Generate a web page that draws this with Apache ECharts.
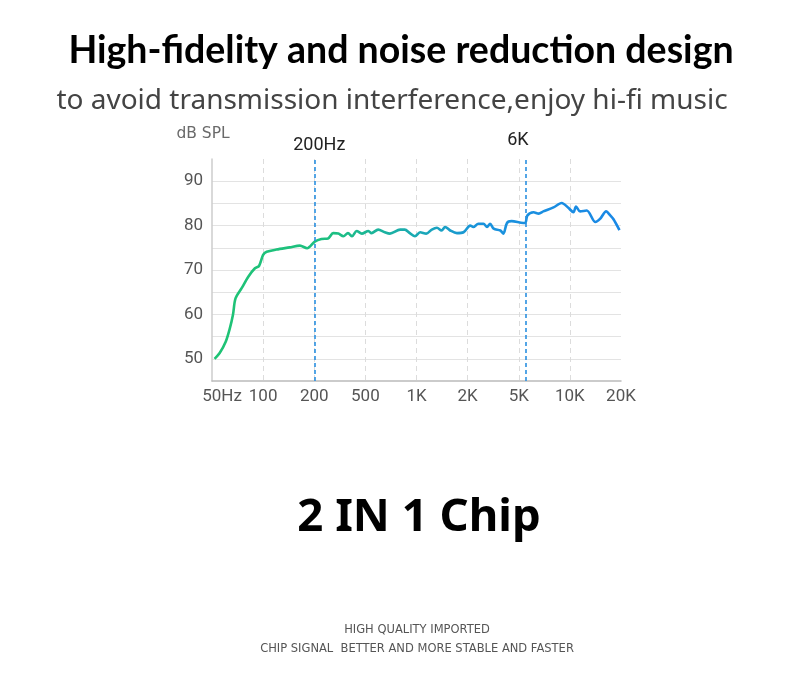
<!DOCTYPE html>
<html>
<head>
<meta charset="utf-8">
<script src="https://cdn.jsdelivr.net/npm/echarts@6/dist/echarts.min.js"></script>
<style>
  html, body { margin: 0; padding: 0; background: #fff; }
  #main { width: 800px; height: 679px; }
</style>
</head>
<body>
<div id="main"></div>
<script>
// x axis is evenly spaced per label, so positions are in "tick index" units
const tickLabels = ['50Hz', '100', '200', '500', '1K', '2K', '5K', '10K', '20K'];

const freqPos = [
  0.05, 0.15, 0.27, 0.35, 0.41, 0.46, 0.58, 0.71, 0.84, 0.92,
  1.00, 1.07, 1.26, 1.52, 1.72, 1.86, 2.01, 2.14, 2.27, 2.37,
  2.47, 2.57, 2.66, 2.74, 2.83, 2.93, 3.06, 3.12, 3.25, 3.38,
  3.48, 3.68, 3.77, 3.87, 3.97, 4.07, 4.19, 4.30, 4.40, 4.49,
  4.56, 4.66, 4.79, 4.92, 5.05, 5.11, 5.21, 5.31, 5.38, 5.44,
  5.51, 5.64, 5.70, 5.77, 5.86, 6.09, 6.13, 6.17, 6.29, 6.39,
  6.48, 6.68, 6.84, 6.97, 7.07, 7.12, 7.20, 7.33, 7.50, 7.59,
  7.71, 7.79, 7.85, 7.97
];
const splValues = [
  50.0, 51.3, 53.9, 56.9, 59.9, 63.6, 65.9, 68.5, 70.4, 70.9,
  73.4, 74.1, 74.6, 75.1, 75.5, 74.9, 76.4, 77.0, 77.1, 78.3,
  78.2, 77.6, 78.3, 77.6, 78.8, 78.2, 78.8, 78.3, 79.1, 78.5,
  78.2, 79.1, 79.1, 78.3, 77.6, 78.5, 78.2, 79.1, 79.5, 78.9,
  79.7, 78.9, 78.3, 78.5, 80.0, 79.7, 80.4, 80.4, 79.7, 80.4,
  79.3, 78.9, 78.2, 80.6, 81.0, 80.6, 80.6, 82.3, 83.0, 82.7,
  83.2, 84.1, 85.1, 84.0, 83.0, 84.3, 83.2, 83.4, 80.8, 81.5,
  83.2, 82.3, 81.5, 79.0
];

const markerPos = [2, 6.14];
const markerLabels = ['200Hz', '6K'];
const markerOffsets = [[5, 0], [-8, -5]];

const chart = echarts.init(document.getElementById('main'));

const lineData = freqPos.map((x, i) => [x, splValues[i]]);

const option = {
  animation: false,
  backgroundColor: '#fff',
  title: [
    {
      text: 'High-fidelity and noise reduction design',
      left: 396, top: 27, textAlign: 'center',
      textStyle: { fontFamily: 'Lato', fontWeight: 'bold', fontSize: 37.5, color: '#000' }
    },
    {
      text: 'to avoid transmission interference,enjoy hi-fi music',
      left: 387, top: 82, textAlign: 'center',
      textStyle: { fontFamily: 'Noto Sans', fontWeight: 'normal', fontSize: 28, color: '#444' }
    },
    {
      text: '2 IN 1 Chip',
      left: 414, top: 490, textAlign: 'center',
      textStyle: { fontFamily: 'Noto Sans', fontWeight: 'bold', fontSize: 45.5, color: '#000' }
    },
    {
      text: 'HIGH QUALITY IMPORTED',
      left: 412, top: 619, textAlign: 'center',
      textStyle: { fontFamily: 'DejaVu Sans', fontWeight: 'normal', fontSize: 11.5, color: '#555' }
    },
    {
      text: 'CHIP SIGNAL  BETTER AND MORE STABLE AND FASTER',
      left: 412, top: 638, textAlign: 'center',
      textStyle: { fontFamily: 'DejaVu Sans', fontWeight: 'normal', fontSize: 11.5, color: '#555' }
    }
  ],
  grid: { left: 212, right: 179, top: 159, bottom: 298 },
  xAxis: {
    type: 'value',
    min: 0, max: 8, interval: 1,
    axisLine: { show: true, lineStyle: { color: '#bbb', width: 1.5 } },
    axisTick: { show: false },
    axisLabel: {
      margin: 7,
      fontFamily: 'Roboto', fontSize: 17, color: '#555',
      formatter: v => v === 0 ? '{first|' + tickLabels[0] + '}' : (tickLabels[v] || ''),
      rich: { first: { fontFamily: 'Roboto', fontSize: 17, color: '#555', padding: [0, 0, 0, 20] } }
    },
    splitLine: {
      show: true, showMinLine: false, showMaxLine: false,
      lineStyle: { color: '#dcdcdc', type: [5, 4], width: 1 }
    }
  },
  yAxis: {
    type: 'value',
    min: 45, max: 95, interval: 5,
    name: 'dB SPL',
    nameLocation: 'end',
    nameGap: 17,
    nameTextStyle: { fontFamily: 'DejaVu Sans', fontSize: 15.5, color: '#6a6a6a', padding: [0, 18, 0, 0] },
    axisLine: { show: true, lineStyle: { color: '#ccc', width: 1.5 } },
    axisTick: { show: false },
    axisLabel: {
      margin: 9,
      fontFamily: 'Roboto', fontSize: 17, color: '#555',
      formatter: v => (v % 10 === 0 && v >= 50 && v <= 90) ? String(v) : ''
    },
    splitLine: {
      show: true, showMinLine: false, showMaxLine: false,
      lineStyle: { color: '#e3e3e3', width: 1.2 }
    }
  },
  series: [
    {
      type: 'line',
      data: lineData,
      smooth: 0.3,
      showSymbol: false,
      lineStyle: {
        width: 2.6,
        color: new echarts.graphic.LinearGradient(0, 0, 1, 0, [
          { offset: 0, color: '#1fc374' },
          { offset: 0.3, color: '#1dbf82' },
          { offset: 0.5, color: '#1aa9b4' },
          { offset: 0.65, color: '#1a93dc' },
          { offset: 1, color: '#1a88e6' }
        ])
      },
      markLine: {
        silent: true,
        symbol: 'none',
        animation: false,
        lineStyle: { color: '#2a90e0', type: [4, 3], width: 1.6 },
        label: {
          position: 'end',
          formatter: p => p.name,
          fontFamily: 'Roboto', fontSize: 18, color: '#222'
        },
        data: markerPos.map((x, i) => ({
          xAxis: x,
          name: markerLabels[i],
          label: { offset: markerOffsets[i] }
        }))
      }
    }
  ]
};

chart.setOption(option);
</script>
</body>
</html>
